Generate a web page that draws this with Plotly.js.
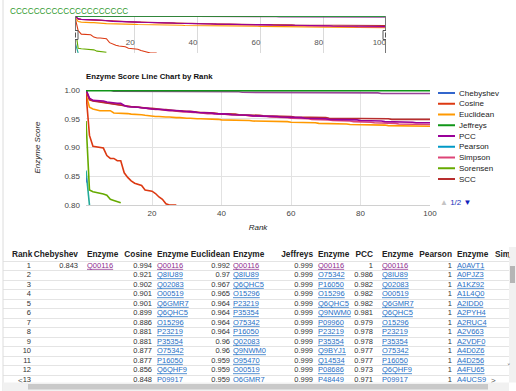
<!DOCTYPE html>
<html><head><meta charset="utf-8">
<script src="https://cdn.plot.ly/plotly-3.0.1.min.js"></script>
<style>html,body{margin:0;padding:0;background:#fff;overflow:hidden}#chart{width:516px;height:391px}</style>
</head><body><div id="chart"></div>
<script>
// ---------------- DATA ----------------
const ranks = [1,2,3,4,5,6,7,8,9,10,11,12,13,14,15,16,17,18,19,20,21,22,23,24,25,26,27,28,29,30,31,32,33,34,35,36,37,38,39,40,41,42,43,44,45,46,47,48,49,50,51,52,53,54,55,56,57,58,59,60,61,62,63,64,65,66,67,68,69,70,71,72,73,74,75,76,77,78,79,80,81,82,83,84,85,86,87,88,89,90,91,92,93,94,95,96,97,98,99,100];

const seriesNames = ['Chebyshev','Cosine','Euclidean','Jeffreys','PCC','Pearson','Simpson','Sorensen','SCC'];
const seriesColors = ['#3366cc','#dc3912','#ff9900','#109618','#990099','#0099c6','#dd4477','#66aa00','#b82e2e'];

const chebyshev = [0.843];
const cosine = [0.994,0.921,0.902,0.901,0.901,0.899,0.886,0.881,0.881,0.877,0.877,0.856,0.848,0.842,0.838,0.836,0.834,0.826,0.825,0.824,0.820,0.814,0.810,0.802,0.800,0.800,0.800];
const euclidean = [0.992,0.97,0.967,0.965,0.964,0.964,0.964,0.964,0.96,0.96,0.959,0.959,0.959,
  0.958,0.958,0.957,0.957,0.956,0.955,0.955,0.954,0.954,
  0.953,0.953,0.953,0.952,0.952,0.952,0.951,0.951,0.951,0.950,0.950,0.950,0.950,0.949,0.949,0.949,0.949,0.948,
  0.948,0.948,0.948,0.947,0.947,0.947,0.947,0.947,0.946,0.946,0.946,0.946,0.946,0.945,0.945,0.945,0.945,0.945,0.945,0.944,
  0.944,0.944,0.944,0.943,0.943,0.943,0.943,0.942,0.942,0.942,0.942,0.941,0.941,0.941,0.941,0.941,0.940,0.940,0.940,0.940,
  0.940,0.939,0.939,0.939,0.939,0.939,0.939,0.938,0.938,0.938,0.938,0.938,0.938,0.937,0.937,0.937,0.937,0.937,0.937,0.937];
const jeffreys = [0.999,0.999,0.999,0.999,0.999,0.999,0.999,0.999,0.999,0.999,
  0.999,0.999,0.999,0.999,0.999,0.999,0.999,0.999,0.999,0.999,
  0.999,0.999,0.999,0.999,0.999,0.999,0.999,0.999,0.999,0.999,
  0.999,0.999,0.999,0.999,0.999,0.999,0.999,0.999,0.999,0.999,
  0.999,0.999,0.999,0.999,0.999,0.999,0.999,0.999,0.999,0.999,
  0.999,0.999,0.999,0.999,0.999,0.999,0.999,0.999,0.999,0.999,
  0.999,0.999,0.999,0.999,0.999,0.999,0.999,0.999,0.999,0.999,
  0.999,0.999,0.999,0.999,0.999,0.999,0.999,0.999,0.999,0.999,
  0.999,0.999,0.999,0.999,0.999,0.999,0.999,0.999,0.999,0.999,
  0.999,0.999,0.999,0.999,0.999,0.999,0.999,0.999,0.999,0.999];
const pcc = [1,0.986,0.982,0.982,0.982,0.981,0.979,0.978,0.978,0.977,0.977,0.973,0.971,
  0.971,0.970,0.970,0.969,0.969,0.968,0.967,0.967,0.966,
  0.966,0.965,0.965,0.964,0.964,0.964,0.963,0.963,0.962,0.962,0.961,0.961,0.960,0.960,0.960,0.959,0.959,0.958,
  0.958,0.958,0.957,0.957,0.957,0.956,0.956,0.956,0.955,0.955,0.955,0.955,0.954,0.954,0.954,0.954,0.953,0.953,0.953,0.953,
  0.952,0.952,0.952,0.951,0.951,0.951,0.950,0.950,0.950,0.950,0.949,0.949,0.949,0.949,0.948,0.948,0.948,0.948,0.948,0.947,
  0.947,0.947,0.946,0.946,0.946,0.946,0.945,0.945,0.945,0.945,0.944,0.944,0.944,0.944,0.944,0.943,0.943,0.943,0.943,0.943];
const pearson = [1,1,1,1,1,1,1,1,1,1, 1,1,1,1,1,1,1,1,1,1, 1,1,1,1,1,1,1,1,1,1, 1,1,1,1,1,1,1,1,1,1, 1,1,1,1,1,1,1,1,1,1,
  1,1,1,1,1,1,1,1,1,1, 1,1,1,1,1,1,1,1,1,1, 1,1,1,1,1,1,1,1,1,1, 1,1,1,1,1,1,1,1,1,1, 1,1,1,1,1,1,1,1,1,1];
const simpson = [1,0.984,0.982,0.981,0.979,0.978,0.977,0.976,0.975,0.975,0.974,0.973,0.972,
  0.971,0.970,0.970,0.969,0.968,0.968,0.967,0.966,0.966,
  0.965,0.965,0.964,0.964,0.963,0.963,0.962,0.962,0.961,0.961,0.961,0.960,0.960,0.959,0.959,0.959,0.958,0.958,
  0.958,0.957,0.957,0.957,0.956,0.956,0.956,0.955,0.955,0.955,0.954,0.954,0.954,0.953,0.953,0.953,0.952,0.952,0.952,0.951,
  0.951,0.951,0.950,0.950,0.950,0.949,0.949,0.949,0.948,0.948,0.948,0.947,0.947,0.947,0.946,0.946,0.946,0.945,0.945,0.945,
  0.944,0.944,0.944,0.943,0.943,0.943,0.942,0.942,0.942,0.942,0.941,0.941,0.941,0.941,0.940,0.940,0.940,0.940,0.940,0.940];
const sorensen = [0.946,0.826,0.823,0.822,0.821,0.819,0.817,0.810,0.808,0.806,0.804];
const scc = [1,0.983,0.981,0.980,0.980,0.979,0.978,0.977,0.976,0.975,0.974,0.973,0.972,
  0.971,0.971,0.970,0.969,0.969,0.968,0.968,0.967,0.967,
  0.966,0.966,0.965,0.965,0.964,0.964,0.963,0.963,0.963,0.962,0.962,0.961,0.961,0.961,0.960,0.960,0.959,0.959,
  0.959,0.958,0.958,0.958,0.957,0.957,0.957,0.956,0.956,0.956,0.956,0.955,0.955,0.955,0.955,0.954,0.954,0.954,0.954,0.954,
  0.953,0.953,0.953,0.953,0.953,0.952,0.952,0.952,0.952,0.952,0.951,0.951,0.951,0.951,0.951,0.951,0.951,0.950,0.950,0.950,
  0.950,0.950,0.950,0.950,0.950,0.950,0.950,0.950,0.949,0.949,0.949,0.949,0.949,0.949,0.949,0.949,0.949,0.949,0.949,0.949];

// series on the (hidden) second legend page
const page2Names = ['Page 2 series A','Page 2 series B'];
const page2Colors = ['#994499','#22aa99'];
const page2SeriesA = [1,1,1,1,1,1,1,1,
  0.998,0.998,0.998,0.998,0.998,0.998,0.998,0.998,0.998,0.998,0.998,0.998,0.998,0.998,0.998,0.998,0.998,
  0.997,0.997,0.997,0.997,0.997,0.997,0.997,0.997,0.997,0.997,0.997,0.997,0.997,0.997,0.997,0.997,0.997,0.997,0.997,0.997,
  0.996,0.996,0.996,0.996,0.996,0.996,0.996,0.996,0.996,0.996,0.996,0.996,0.996,0.996,0.996,0.996,0.996,0.996,0.996,0.996,
  0.995,0.995,0.995,0.995,0.995,0.995,0.995,0.995,0.995,0.995,0.995,0.995,0.995,0.995,0.995,0.995,0.995,0.995,0.995,0.995,
  0.994,0.994,0.994,0.994,0.994,0.994,0.994,0.994,0.994,0.994,0.994,0.994,0.994,0.994,0.994];
const page2SeriesB = [0.86,0.80];

// table (first rows visible)
const tableRanks = [1,2,3,4,5,6,7,8,9,10,11,12,13];
const tableHeaders = ['Rank','Chebyshev','Enzyme','Cosine','Enzyme','Euclidean','Enzyme','Jeffreys','Enzyme','PCC','Enzyme','Pearson','Enzyme','Simpson'];
const chebyshevEnzymes = ['Q00116'];
const cosineEnzymes = ['Q00116','Q8IU89','Q02083','O00519','Q6GMR7','Q6QHC5','O15296','P23219','P35354','O75342','P16050','Q6QHF9','P09917'];
const euclideanEnzymes = ['Q00116','Q8IU89','Q6QHC5','O15296','P23219','P35354','O75342','P16050','Q02083','Q9NWM0','O95470','O00519','Q6GMR7'];
const jeffreysEnzymes = ['Q00116','O75342','P16050','O15296','Q6QHC5','Q9NWM0','P09960','P23219','P35354','Q9BYJ1','Q14534','P08686','P48449'];
const pccEnzymes = ['Q00116','Q8IU89','Q02083','O00519','Q6GMR7','Q6QHC5','O15296','P23219','P35354','O75342','P16050','Q6QHF9','P09917'];
const pearsonEnzymes = ['A0AVT1','A0PJZ3','A1KZ92','A1L4Q0','A2IDD0','A2PYH4','A2RUC4','A2V663','A2VDF0','A4D0Z6','A4D256','A4FU65','A4UCS9'];
const visitedEnzymes = ['Q00116'];

// ---------------- BUILD ----------------
const W = 516, H = 391;
const px = v => v / W, py = v => 1 - v / H;
const FONT = 'Arial, "Liberation Sans", sans-serif';

const seriesMap = {};
const seriesArrays = [chebyshev, cosine, euclidean, jeffreys, pcc, pearson, simpson, sorensen, scc];
seriesNames.forEach((n, i) => seriesMap[n] = {name: n, y: seriesArrays[i], color: seriesColors[i]});
seriesMap[page2Names[0]] = {name: page2Names[0], y: page2SeriesA, color: page2Colors[0]};
seriesMap[page2Names[1]] = {name: page2Names[1], y: page2SeriesB, color: page2Colors[1]};

const drawOrder = ['Pearson', page2Names[0], 'Euclidean', 'Simpson', 'SCC', 'PCC', 'Cosine', page2Names[1], 'Sorensen', 'Jeffreys', 'Chebyshev'];

const traces = [];
drawOrder.forEach(n => {
  const s = seriesMap[n];
  const xs = ranks.slice(0, s.y.length);
  const single = s.y.length === 1;
  traces.push({
    type: 'scatter', mode: single ? 'lines+markers' : 'lines', name: s.name,
    x: xs, y: s.y, xaxis: 'x', yaxis: 'y',
    line: {color: s.color, width: 1.6},
    marker: {color: s.color, size: 3, symbol: 'line-ns', line: {color: s.color, width: 1.5}},
    hoverinfo: 'skip', showlegend: false
  });
  if (!single) traces.push({
    type: 'scatter', mode: 'lines', name: s.name + ' (range)',
    x: xs, y: s.y, xaxis: 'x2', yaxis: 'y2',
    line: {color: s.color, width: 1.1},
    hoverinfo: 'skip', showlegend: false
  });
});

// ---- table drawn as text columns on its own axes ----
const fmt = v => String(v);
const linkColor = id => visitedEnzymes.includes(id) ? '#8e2b8e' : '#1f6fc5';
const tableCols = [
  {cells: tableRanks.map(fmt), x: 31, hx: 12, pos: 'middle left', hpos: 'middle right'},
  {cells: chebyshev.slice(0, 13).map(fmt), x: 78},
  {cells: chebyshevEnzymes, x: 87, link: true},
  {cells: cosine.slice(0, 13).map(fmt), x: 152},
  {cells: cosineEnzymes, x: 157, link: true},
  {cells: euclidean.slice(0, 13).map(fmt), x: 230},
  {cells: euclideanEnzymes, x: 233, link: true},
  {cells: jeffreys.slice(0, 13).map(fmt), x: 313},
  {cells: jeffreysEnzymes, x: 318, link: true},
  {cells: pcc.slice(0, 13).map(fmt), x: 373},
  {cells: pccEnzymes, x: 382, link: true},
  {cells: pearson.slice(0, 13).map(fmt), x: 452},
  {cells: pearsonEnzymes, x: 457, link: true},
  {cells: [], x: 530}   // Simpson column: scrolled out of view, only its header shows
];
tableCols.forEach(c => {
  if (!c.pos) c.pos = c.link ? 'middle right' : 'middle left';
  if (c.hx === undefined) c.hx = c.x;
  if (!c.hpos) c.hpos = c.pos;
});
traces.push({
  type: 'scatter', mode: 'text', xaxis: 'x3', yaxis: 'y3',
  x: tableCols.map(c => c.hx), y: tableCols.map(() => -0.2),
  text: tableHeaders.map(h => '<b>' + h + '</b>'),
  textposition: tableCols.map(c => c.hpos),
  textfont: {family: FONT, size: 8.3, color: '#222'},
  cliponaxis: true, hoverinfo: 'skip', showlegend: false
});
tableCols.filter(c => c.cells.length).forEach(c => {
  traces.push({
    type: 'scatter', mode: 'text', xaxis: 'x3', yaxis: 'y3',
    x: c.cells.map(() => c.x), y: tableRanks.slice(0, c.cells.length),
    text: c.cells, textposition: c.pos,
    textfont: c.link ? {family: FONT, size: 7.5, color: c.cells.map(linkColor), lineposition: 'under'}
                     : {family: FONT, size: 7.5, color: '#333'},
    cliponaxis: true, hoverinfo: 'skip', showlegend: false
  });
});

// ---- shapes & annotations ----
const shapes = [];
const annotations = [];
// page border
shapes.push({type: 'line', xref: 'paper', yref: 'paper', x0: px(3), x1: px(3), y0: 0, y1: 1, line: {color: '#dcdcdc', width: 1}});
// range filter handles
[ranks[0], ranks[ranks.length - 1]].forEach(r => {
  shapes.push({type: 'line', xref: 'x2', yref: 'paper', x0: r, x1: r, y0: py(53), y1: py(16), line: {color: '#777', width: 2}});
  shapes.push({type: 'rect', xref: 'x2', yref: 'paper', xsizemode: 'pixel', xanchor: r, x0: -3, x1: 3, y0: py(39.5), y1: py(30.5), line: {color: '#555', width: 1}, fillcolor: '#fff'});
  shapes.push({type: 'rect', xref: 'x2', yref: 'paper', xsizemode: 'pixel', xanchor: r, x0: -1, x1: 1, y0: py(37.5), y1: py(32.5), line: {width: 0}, fillcolor: '#555'});
});
// manual legend (page 1 of 2)
seriesNames.forEach((n, i) => {
  const y = 93 + 10.75 * i;
  shapes.push({type: 'line', xref: 'paper', yref: 'paper', x0: px(438), x1: px(455), y0: py(y), y1: py(y), line: {color: seriesColors[i], width: 2}});
  annotations.push({xref: 'paper', yref: 'paper', x: px(457), y: py(y), xanchor: 'left', yanchor: 'middle', text: n, showarrow: false, font: {family: FONT, size: 8, color: '#222'}});
});
annotations.push({xref: 'paper', yref: 'paper', x: px(438), y: py(202), xanchor: 'left', yanchor: 'middle', showarrow: false,
  text: '<span style="color:#c4c4c4">▲</span> <span style="color:#2233bb">1/2</span> <span style="color:#1122bb">▼</span>',
  font: {family: FONT, size: 8}});
annotations.push({xref: 'paper', yref: 'paper', x: px(8), y: py(12), xanchor: 'left', yanchor: 'middle', showarrow: false,
  text: 'CCCCCCCCCCCCCCCCCCCC', font: {family: FONT, size: 8.2, color: '#2f9a2f'}});
// scrollbars of the table box
shapes.push({type: 'rect', xref: 'paper', yref: 'paper', x0: px(3), x1: px(509), y0: 0, y1: py(382.5), line: {width: 0}, fillcolor: '#f1f1f1'});
shapes.push({type: 'rect', xref: 'paper', yref: 'paper', x0: px(28), x1: px(488), y0: py(389.5), y1: py(384), line: {width: 0}, fillcolor: '#c9c9c9'});
shapes.push({type: 'rect', xref: 'paper', yref: 'paper', x0: px(509), x1: 1, y0: py(382.5), y1: py(247), line: {width: 0}, fillcolor: '#f1f1f1'});
shapes.push({type: 'rect', xref: 'paper', yref: 'paper', x0: px(510), x1: px(515), y0: py(283), y1: py(266), line: {width: 0}, fillcolor: '#b5b5b5'});
annotations.push({xref: 'paper', yref: 'paper', x: px(16), y: py(386.5), text: '<', showarrow: false, font: {family: FONT, size: 8, color: '#555'}});
annotations.push({xref: 'paper', yref: 'paper', x: px(498), y: py(386.5), text: '>', showarrow: false, font: {family: FONT, size: 8, color: '#555'}});
annotations.push({xref: 'paper', yref: 'paper', x: px(512.5), y: py(260), text: '˄', showarrow: false, font: {family: 'DejaVu Sans', size: 7, color: '#555'}});
annotations.push({xref: 'paper', yref: 'paper', x: px(512.5), y: py(373), text: '˅', showarrow: false, font: {family: 'DejaVu Sans', size: 7, color: '#555'}});

const rowLines = tableRanks.map(r => r - 0.5);

const layout = {
  width: W, height: H, autosize: false,
  margin: {l: 0, r: 0, t: 0, b: 0, pad: 0},
  paper_bgcolor: '#fff', plot_bgcolor: 'rgba(0,0,0,0)',
  showlegend: false,
  font: {family: FONT, size: 8, color: '#444'},
  title: {text: '<b>Enzyme Score Line Chart by Rank</b>', xref: 'paper', yref: 'paper', x: px(86), xanchor: 'left', y: py(76), yanchor: 'middle', font: {family: FONT, size: 7.8, color: '#111'}},
  xaxis: {domain: [px(86), px(430)], range: [1, 100], anchor: 'y', tickvals: [20, 40, 60, 80, 100],
    showgrid: true, gridcolor: '#e2e2e2', zeroline: false, showline: true, linecolor: '#d0d0d0', ticks: '',
    tickfont: {family: FONT, size: 8, color: '#444'}, automargin: false, fixedrange: true,
    title: {text: '<i>Rank</i>', font: {family: FONT, size: 8, color: '#222'}, standoff: 7}},
  yaxis: {domain: [py(205), py(90)], range: [0.8, 1.0], anchor: 'x', tickvals: [0.8, 0.85, 0.9, 0.95, 1.0], tickformat: '.2f',
    showgrid: true, gridcolor: '#e2e2e2', zeroline: false, showline: false, ticks: '', ticklabelstandoff: 5,
    tickfont: {family: FONT, size: 8, color: '#444'}, automargin: false, fixedrange: true,
    title: {text: '<i>Enzyme Score</i>', font: {family: FONT, size: 8, color: '#222'}, standoff: 22}},
  xaxis2: {domain: [px(75), px(386)], range: [1, 100], anchor: 'y2', tickvals: [20, 40, 60, 80, 100],
    ticklabelposition: 'inside left', ticklabeloverflow: 'allow', showgrid: true, gridcolor: '#dadada', zeroline: false, showline: false, ticks: '',
    tickfont: {family: FONT, size: 8, color: '#555'}, automargin: false, fixedrange: true},
  yaxis2: {domain: [py(53), py(16)], range: [0.8, 1.0], anchor: 'x2', visible: false, fixedrange: true},
  xaxis3: {domain: [px(3), px(509)], range: [3, 509], anchor: 'y3', visible: false, fixedrange: true},
  yaxis3: {domain: [py(382), py(247)], range: [13.21, -1.0], anchor: 'x3', tickvals: rowLines,
    showgrid: true, gridcolor: '#e4e4e4', showticklabels: false, ticks: '', zeroline: false, showline: false, fixedrange: true, automargin: false},
  shapes: shapes,
  annotations: annotations
};

Plotly.newPlot('chart', traces, layout, {staticPlot: true, displayModeBar: false});
</script>
</body></html>
